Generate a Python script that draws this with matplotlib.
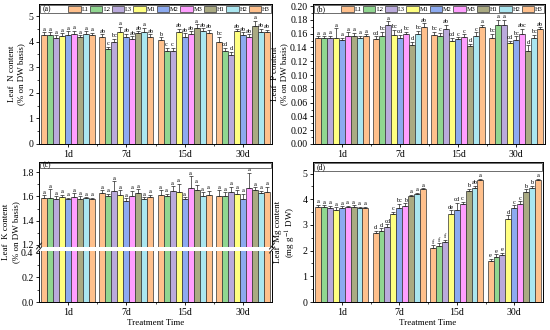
import numpy as np
import matplotlib
matplotlib.use("Agg")
import matplotlib.pyplot as plt
from matplotlib.patches import Patch, Rectangle
from matplotlib.ticker import MultipleLocator

plt.rcParams['font.family'] = ['Liberation Serif', 'DejaVu Serif']
plt.rcParams['mathtext.fontset'] = 'stix'

times = ['1d', '7d', '15d', '30d']
treatments = ['L1', 'L2', 'L3', 'M1', 'M2', 'M3', 'H1', 'H2', 'H3']
colors = ['#FFC08C', '#90D690', '#BAAADC', '#FFFF80', '#8CAAF0',
          '#FF9EFF', '#AAAA82', '#AAE6F0', '#FFC08C']

# Leaf N content (% on DW basis)
n_vals = [[4.25, 4.25, 4.15, 4.22, 4.25, 4.28, 4.17, 4.30, 4.27],
          [4.19, 3.70, 3.97, 4.38, 4.20, 4.09, 4.32, 4.39, 4.20],
          [4.06, 3.65, 3.65, 4.38, 4.20, 4.28, 4.52, 4.40, 4.35],
          [4.00, 3.62, 3.48, 4.40, 4.25, 4.17, 4.61, 4.38, 4.37]]
n_err = [[0.12, 0.12, 0.10, 0.10, 0.15, 0.15, 0.08, 0.10, 0.08],
         [0.10, 0.10, 0.15, 0.20, 0.10, 0.12, 0.08, 0.15, 0.08],
         [0.12, 0.12, 0.12, 0.12, 0.12, 0.12, 0.15, 0.12, 0.12],
         [0.20, 0.15, 0.12, 0.08, 0.12, 0.12, 0.20, 0.12, 0.10]]
n_let = [['a'] * 9,
         ['ab', 'c', 'bc', 'a', 'ab', 'ab', 'ab', 'a', 'ab'],
         ['b', 'c', 'c', 'ab', 'ab', 'ab', 'a', 'ab', 'ab'],
         ['bc', 'cd', 'd', 'ab', 'ab', 'ab', 'a', 'ab', 'ab']]

# Leaf P content (% on DW basis)
p_vals = [[0.153, 0.153, 0.154, 0.153, 0.151, 0.156, 0.157, 0.154, 0.156],
          [0.152, 0.157, 0.173, 0.158, 0.153, 0.159, 0.143, 0.160, 0.169],
          [0.158, 0.157, 0.167, 0.150, 0.152, 0.155, 0.142, 0.156, 0.170],
          [0.154, 0.172, 0.172, 0.146, 0.151, 0.160, 0.135, 0.154, 0.167]]
p_err = [[0.003, 0.003, 0.003, 0.015, 0.003, 0.006, 0.004, 0.003, 0.003],
         [0.004, 0.006, 0.005, 0.008, 0.005, 0.004, 0.005, 0.004, 0.006],
         [0.005, 0.004, 0.006, 0.004, 0.003, 0.004, 0.003, 0.006, 0.003],
         [0.006, 0.008, 0.008, 0.004, 0.005, 0.007, 0.008, 0.004, 0.002]]
p_let = [['a'] * 9,
         ['cd', 'bc', 'a', 'bc', 'cd', 'bc', 'd', 'bc', 'ab'],
         ['bc', 'c', 'ab', 'cd', 'c', 'c', 'd', 'c', 'a'],
         ['bc', 'a', 'a', 'cd', 'bc', 'abc', 'd', 'bc', 'ab']]

# Leaf K content (% on DW basis)
k_vals = [[1.590, 1.590, 1.580, 1.595, 1.580, 1.595, 1.580, 1.585, 1.580],
          [1.630, 1.600, 1.645, 1.610, 1.565, 1.605, 1.630, 1.575, 1.595],
          [1.610, 1.600, 1.645, 1.635, 1.575, 1.665, 1.655, 1.605, 1.615],
          [1.600, 1.605, 1.640, 1.620, 1.580, 1.665, 1.655, 1.625, 1.640]]
k_err = [[0.02, 0.07, 0.02, 0.02, 0.01, 0.03, 0.02, 0.01, 0.01],
         [0.02, 0.02, 0.08, 0.04, 0.02, 0.04, 0.03, 0.02, 0.02],
         [0.04, 0.02, 0.04, 0.07, 0.02, 0.10, 0.04, 0.03, 0.03],
         [0.05, 0.03, 0.04, 0.03, 0.04, 0.13, 0.02, 0.02, 0.04]]
k_let = [['a'] * 9, ['a'] * 9, ['a'] * 9, ['a'] * 9]

# Leaf Mg content (mg g-1 DW)
mg_vals = [[3.68, 3.68, 3.67, 3.60, 3.67, 3.68, 3.70, 3.65, 3.65],
           [2.67, 2.75, 2.93, 3.42, 3.67, 3.72, 4.12, 4.20, 4.38],
           [2.10, 2.18, 2.32, 3.42, 3.57, 3.80, 4.33, 4.45, 4.75],
           [1.60, 1.75, 1.82, 3.25, 3.65, 3.83, 4.30, 4.45, 4.75]]
mg_err = [[0.10, 0.08, 0.08, 0.08, 0.06, 0.06, 0.06, 0.06, 0.06],
          [0.10, 0.12, 0.10, 0.10, 0.15, 0.12, 0.06, 0.06, 0.04],
          [0.10, 0.10, 0.10, 0.15, 0.30, 0.10, 0.08, 0.08, 0.04],
          [0.08, 0.10, 0.10, 0.12, 0.12, 0.10, 0.08, 0.08, 0.04]]
mg_let = [['a'] * 9,
          ['d', 'd', 'cd', 'c', 'bc', 'b', 'a', 'a', 'a'],
          ['f', 'f', 'f', 'de', 'cd', 'c', 'b', 'ab', 'a'],
          ['e', 'e', 'e', 'd', 'c', 'c', 'b', 'b', 'a']]

W, H = 550, 330
fig = plt.figure(figsize=(W / 100, H / 100), dpi=100)


def px_axes(l, t, r, b):
    return fig.add_axes([l / W, 1 - b / H, (r - l) / W, (b - t) / H])


bw = 0.103
xg = np.arange(len(times))
offs = (np.arange(len(treatments)) - 4) * bw
TICK_FS = 7.1
LAB_FS = 6.5


def style(ax, xt=True):
    ax.set_xlim(-0.5, 3.5)
    ax.tick_params(axis='both', which='major', direction='out', length=2.5,
                   width=0.6, labelsize=TICK_FS, pad=1.5)
    ax.tick_params(axis='both', which='minor', direction='out', length=1.5,
                   width=0.5)
    for s in ax.spines.values():
        s.set_linewidth(0.7)
    if xt:
        ax.set_xticks(xg)
        ax.set_xticklabels(times)
        ax.set_xticks([0.5, 1.5, 2.5], minor=True)
    else:
        ax.set_xticks([])
        ax.set_xticks([], minor=True)


def draw(ax, vals, errs, lets, lab_off, letters=True):
    vals = np.array(vals)
    errs = np.array(errs)
    for j in range(len(treatments)):
        x = xg + offs[j]
        v = vals[:, j]
        e = errs[:, j]
        ax.bar(x, v, width=bw, color=colors[j], edgecolor='#333333',
               linewidth=0.5, label=treatments[j], zorder=2)
        ax.errorbar(x, v, yerr=[np.zeros_like(e), e], fmt='none',
                    ecolor='#222222', elinewidth=0.5, capsize=1.6,
                    capthick=0.5, zorder=3)
        if letters:
            for i in range(len(times)):
                ax.text(x[i], v[i] + e[i] + lab_off, lets[i][j],
                        ha='center', va='bottom', fontsize=4.6,
                        zorder=4)


def legend_box(ax, tag, with_legend):
    ax.add_patch(Rectangle((0.006, 0.935), 0.988, 0.058,
                           transform=ax.transAxes, fill=False,
                           edgecolor='#555555', linewidth=0.6, zorder=5))
    ax.text(0.015, 0.962, tag, transform=ax.transAxes, fontsize=5.6,
            ha='left', va='center', zorder=6)
    if with_legend:
        handles = [Patch(facecolor=colors[j], edgecolor='#333333',
                         linewidth=0.5) for j in range(len(treatments))]
        ax.legend(handles, treatments, ncol=9, loc='center right',
                  bbox_to_anchor=(0.99, 0.962), frameon=False,
                  fontsize=4.6, handlelength=1.95, handleheight=1.0,
                  handletextpad=0.15, columnspacing=0.2, borderpad=0,
                  borderaxespad=0)


# (a)
ax_a = px_axes(39, 4, 272, 144)
draw(ax_a, n_vals, n_err, n_let, 0.02)
ax_a.set_ylim(0, 5.47)
ax_a.yaxis.set_major_locator(MultipleLocator(1))
ax_a.yaxis.set_minor_locator(MultipleLocator(0.5))
style(ax_a)
ax_a.set_ylabel('Leaf  N content\n(% on DW basis)', fontsize=LAB_FS,
                linespacing=1.25, labelpad=2)
legend_box(ax_a, '(a)', True)

# (b)
ax_b = px_axes(313, 4, 545, 144)
draw(ax_b, p_vals, p_err, p_let, 0.0008)
ax_b.set_ylim(0, 0.203)
ax_b.yaxis.set_major_locator(MultipleLocator(0.02))
ax_b.yaxis.set_minor_locator(MultipleLocator(0.01))
ax_b.yaxis.set_major_formatter(plt.FormatStrFormatter('%.2f'))
style(ax_b)
ax_b.set_ylabel('Leaf  P content\n(% on DW basis)', fontsize=LAB_FS,
                linespacing=1.25, labelpad=1)
legend_box(ax_b, '(b)', True)

# (c) broken axis
ax_cu = px_axes(39, 162, 272, 247)
ax_cl = px_axes(39, 251, 272, 302)
draw(ax_cu, k_vals, k_err, k_let, 0.004)
draw(ax_cl, k_vals, k_err, k_let, 0.0, letters=False)
ax_cu.set_ylim(1.1835, 1.883)
ax_cl.set_ylim(0, 0.416)
ax_cu.yaxis.set_major_locator(MultipleLocator(0.2))
ax_cu.yaxis.set_minor_locator(MultipleLocator(0.1))
ax_cl.yaxis.set_major_locator(MultipleLocator(0.2))
ax_cl.yaxis.set_minor_locator(MultipleLocator(0.1))
ax_cu.yaxis.set_major_formatter(plt.FormatStrFormatter('%.1f'))
ax_cl.yaxis.set_major_formatter(plt.FormatStrFormatter('%.1f'))
style(ax_cu, xt=False)
style(ax_cl)
ax_cu.spines['bottom'].set_visible(False)
ax_cl.spines['top'].set_visible(False)
ax_cl.set_xlabel('Treatment Time', fontsize=LAB_FS, labelpad=2)
legend_box(ax_cu, '(c)', False)
fig.text(11 / W, 1 - 232 / H, 'Leaf  K content\n(% on DW basis)',
         rotation=90, ha='center', va='center', fontsize=LAB_FS,
         linespacing=1.25)
# break marks
for xp in (39, 272):
    for yp in (246, 250):
        fig.add_artist(plt.Line2D([(xp - 2.5) / W, (xp + 2.5) / W],
                                  [1 - (yp + 3) / H, 1 - (yp - 3) / H],
                                  color='#222222', linewidth=0.7))

# (d)
ax_d = px_axes(313, 162, 543, 302)
draw(ax_d, mg_vals, mg_err, mg_let, 0.02)
ax_d.set_ylim(0, 5.45)
ax_d.yaxis.set_major_locator(MultipleLocator(1))
ax_d.yaxis.set_minor_locator(MultipleLocator(0.5))
style(ax_d)
ax_d.set_ylabel('Leaf  Mg content\n(mg g$^{-1}$ DW)', fontsize=LAB_FS,
                linespacing=1.25, labelpad=3)
ax_d.set_xlabel('Treatment Time', fontsize=LAB_FS, labelpad=2)
legend_box(ax_d, '(d)', False)

fig.savefig('out.png', dpi=100)
